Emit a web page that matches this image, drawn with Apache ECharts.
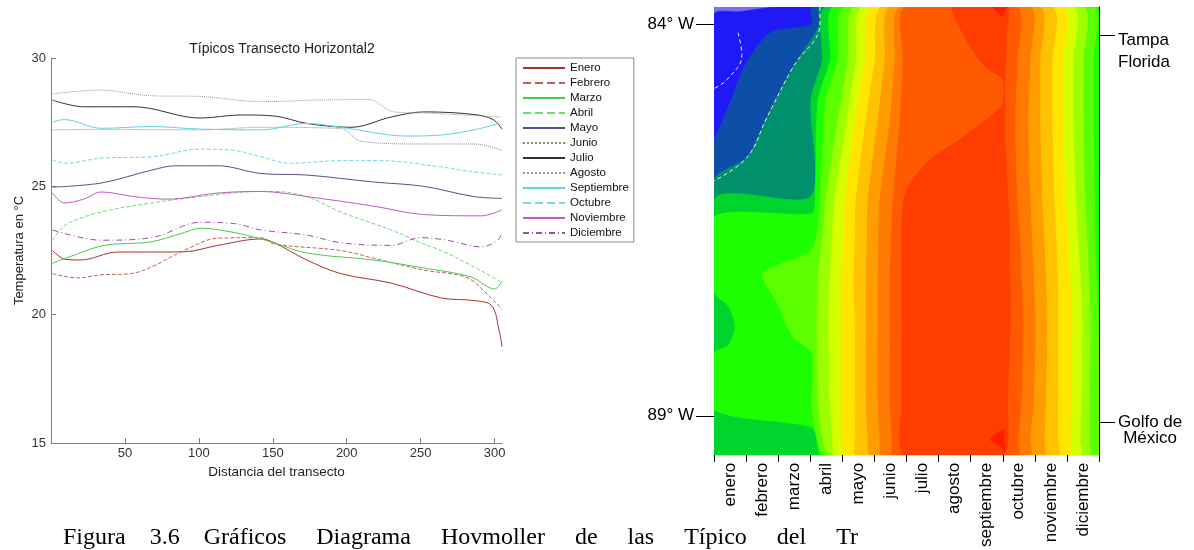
<!DOCTYPE html>
<html>
<head>
<meta charset="utf-8">
<script src="https://cdn.jsdelivr.net/npm/echarts@6/dist/echarts.min.js"></script>
<style>
html,body{margin:0;padding:0;background:#fff;}
#chart{width:1194px;height:550px;}
</style>
</head>
<body>
<div id="chart"></div>
<script>
// ---------- Left chart data (distance, temperature °C) ----------
const seriesNames = ['Enero','Febrero','Marzo','Abril','Mayo','Junio','Julio','Agosto','Septiembre','Octubre','Noviembre','Diciembre'];
const distTicks = [50,100,150,200,250,300];
const tempTicks = [15,20,25,30];

const enero = [[1,22.5],[10,22.15],[20,22.13],[45,22.44],[68,22.44],[90,22.45],[113,22.7],[142,22.95],[151,22.8],[173,22.13],[196,21.6],[230,21.23],[264,20.65],[286,20.55],[298,20.35],[303,19.4],[305,18.75]];
const febrero = [[1,21.6],[18,21.43],[34,21.55],[54,21.6],[68,21.86],[90,22.5],[113,22.98],[142,23.0],[151,22.75],[196,22.5],[218,22.2],[252,21.74],[281,21.45],[295,20.8],[305,20.2]];
const marzo = [[1,22.0],[10,22.2],[36,22.7],[67,22.83],[90,23.2],[101,23.37],[124,23.2],[142,22.95],[151,22.8],[173,22.4],[218,22.13],[254,21.8],[284,21.47],[300,21.0],[305,21.3]];
const abril = [[1,22.9],[10,23.5],[34,24.0],[68,24.35],[101,24.6],[142,24.8],[151,24.8],[173,24.6],[196,24.0],[230,23.3],[252,22.75],[264,22.5],[286,21.86],[302,21.35],[305,21.2]];
const mayo = [[1,24.97],[34,25.13],[68,25.63],[84,25.8],[113,25.8],[142,25.5],[173,25.44],[218,25.17],[252,25.0],[286,24.6],[305,24.53]];
const junio = [[1,27.2],[34,27.22],[101,27.2],[142,27.3],[196,27.25],[210,26.75],[250,26.65],[286,26.65],[305,26.4]];
const julio = [[1,28.36],[22,28.1],[56,28.1],[101,27.66],[128,27.78],[151,27.74],[173,27.45],[203,27.3],[230,27.7],[252,27.9],[286,27.8],[299,27.6],[305,27.23]];
const agosto = [[1,28.6],[32,28.75],[68,28.53],[101,28.5],[142,28.3],[180,28.36],[215,28.38],[232,27.9],[255,27.85],[304,27.7]];
const septiembre = [[1,27.5],[9,27.6],[34,27.26],[68,27.33],[101,27.23],[142,27.2],[173,27.45],[196,27.3],[241,26.96],[264,27.0],[286,27.2],[303,27.45]];
const octubre = [[1,26.03],[10,25.9],[34,26.1],[68,26.15],[101,26.45],[124,26.4],[142,26.15],[162,25.9],[196,26.0],[223,26.0],[263,25.76],[286,25.56],[305,25.44]];
const noviembre = [[1,24.74],[9,24.35],[22,24.5],[34,24.78],[56,24.6],[79,24.5],[113,24.74],[142,24.8],[173,24.6],[218,24.23],[252,23.9],[291,23.85],[305,24.08]];
const diciembre = [[1,23.3],[34,22.9],[68,23.0],[101,23.6],[124,23.55],[142,23.3],[173,23.1],[196,22.8],[230,22.7],[250,23.0],[268,22.9],[291,22.64],[302,22.9],[305,23.2]];

// ---------- Right chart (Hovmoller) data ----------
const months = ['enero','febrero','marzo','abril','mayo','junio','julio','agosto','septiembre','octubre','noviembre','diciembre'];
const lonTicksLeft = [84, 89];
const lonTicksRight = [84.14, 89.08];
// contour regions "T >= level": rows of [longitude, month position left edge, month position right edge]
const band0 = [[83.78,0,12],[89.5,0,12]];
const band1 = [[83.78,2.0,12],[83.84,0.8,12],[83.88,0,12],[89.5,0,12]];
const band2 = [[83.78,3.05,12],[84.0,3.05,12],[84.11,1.75,12],[84.5,1.0,12],[85.0,0.5,12],[85.3,0.2,12],[85.5,0,12],[89.5,0,12]];
const band3 = [[83.78,3.3,12],[84.0,3.3,12],[84.55,2.46,12],[85.19,1.65,12],[85.7,1.03,12],[86.0,0,12],[89.5,0,12]];
const band4 = [[83.78,3.49,12],[84.46,3.37,12],[84.97,3.02,12],[86.2,3.02,12],[86.24,0,12],[89.5,0,12]];
const band5 = [[83.78,3.74,12],[84.46,3.62,12],[84.97,3.24,12],[86.24,3.15,12],[86.42,3.05,12],[86.46,0,12],[87.42,0,12],[87.6,0.45,12],[87.85,0.66,12],[88.1,0.45,12],[88.2,0,12],[88.92,0,12],[89.15,3.05,12],[89.43,3.25,12],[89.5,3.3,12]];
const band6 = [[83.78,4.08,11.81],[84.46,3.87,11.81],[84.97,3.49,11.81],[86.24,3.3,11.86],[86.88,3.05,11.88],[87.18,1.53,11.92],[87.56,1.97,11.95],[87.99,2.46,12],[88.2,3.05,12],[88.92,3.05,12],[89.43,3.3,12],[89.5,3.45,12]];
const band7 = [[83.78,4.40,11.50],[84.46,4.18,11.50],[85.22,3.87,11.50],[86.24,3.49,11.56],[86.76,3.38,11.63],[87.27,3.24,11.68],[87.78,3.21,11.72],[88.80,3.24,11.70],[89.31,3.4,11.69],[89.5,3.6,11.69]];
const band8 = [[83.78,4.64,11.19],[84.46,4.43,11.19],[85.22,4.15,11.19],[86.24,3.77,11.28],[86.76,3.68,11.35],[87.27,3.62,11.42],[87.78,3.58,11.47],[88.80,3.62,11.44],[89.31,3.7,11.41],[89.5,3.8,11.41]];
const band9 = [[83.78,4.93,10.88],[84.46,4.71,10.88],[85.22,4.40,10.88],[86.24,4.08,10.96],[86.76,4.02,11.04],[87.27,3.99,11.10],[87.78,3.99,11.16],[88.80,3.99,11.12],[89.31,4.0,11.10],[89.5,4.05,11.10]];
const band10 = [[83.78,5.24,10.54],[84.46,5.02,10.54],[85.22,4.74,10.54],[86.24,4.43,10.60],[86.76,4.40,10.66],[87.27,4.36,10.70],[87.78,4.40,10.72],[88.80,4.40,10.72],[89.31,4.40,10.72],[89.5,4.42,10.72]];
const band11 = [[83.78,5.49,10.16],[84.46,5.33,10.16],[85.22,5.11,10.16],[86.24,4.80,10.22],[86.76,4.77,10.29],[87.27,4.74,10.34],[87.78,4.74,10.38],[88.80,4.74,10.34],[89.31,4.80,10.29],[89.5,4.86,10.29]];
const band12 = [[83.78,5.80,9.85],[84.46,5.64,9.85],[85.22,5.49,9.79],[86.24,5.17,9.85],[86.76,5.13,9.91],[87.27,5.11,9.96],[87.78,5.11,10.01],[88.80,5.11,9.96],[89.31,5.17,9.85],[89.5,5.24,9.85]];
const band13 = [[83.78,5.95,9.45],[84.46,5.89,9.45],[85.22,5.80,9.38],[86.24,5.58,9.45],[86.76,5.52,9.54],[87.27,5.49,9.58],[87.78,5.49,9.63],[88.80,5.49,9.58],[89.31,5.55,9.48],[89.5,5.58,9.48]];
const band14 = [[83.78,7.45,9.13],[84.12,7.75,9.12],[84.42,8.2,9.10],[84.59,8.6,9.08],[84.69,8.98,9.07],[84.85,9.04,9.06],[85.05,8.95,9.07],[85.47,7.67,9.07],[85.73,6.73,9.1],[86.12,6.0,9.15],[86.5,5.86,9.2],[87.78,5.86,9.23],[88.8,5.86,9.15],[89.5,5.92,9.01]];
const band15a = [[83.78,8.7,9.1],[83.85,8.85,9.05],[83.9,8.95,8.97]];
const band15b = [[89.17,9.02,9.04],[89.3,8.6,9.05],[89.4,8.97,9.07],[89.45,9.05,9.07]];
// dashed white contour lines: [month position, longitude]
const dashContour1 = [[3.3,83.78],[3.3,84.0],[2.46,84.55],[1.65,85.19],[1.03,85.7],[0,86.0]];
const dashContour2 = [[0.75,84.11],[0.87,84.4],[0.4,84.71],[0,84.82]];

const regionList = [[0,band0],[1,band1],[2,band2],[3,band3],[4,band4],[5,band5],[6,band6],[7,band7],[8,band8],[9,band9],[10,band10],[11,band11],[12,band12],[13,band13],[14,band14],[15,band15a],[15,band15b]];

const captionText = 'Figura    3.6    Gráficos     Diagrama     Hovmoller     de     las     Típico     del     Tr';

// ---------- styles ----------
const levelColors = ['#7b6cf5','#1f1af5','#0d4fa8','#00906b','#00d52d','#1dff00','#5dff00','#9cff00','#d6ff00','#ffe500','#ffc200','#ff9d00','#ff7a00','#ff5a00','#ff3d00','#ff1f00'];
const lineColors = ['#a8322e','#c4605c','#4ccb4c','#6fdc6f','#5e4c88','#8a8a8a','#333333','#9a9a9a','#5fd2e2','#74d8ea','#c458c8','#a24ea2'];
const lineTypes = ['solid','dashed','solid','dashed','solid','dotted','solid','dotted','solid','dashed','solid',[6,3,1,3]];
const seriesData = [enero,febrero,marzo,abril,mayo,junio,julio,agosto,septiembre,octubre,noviembre,diciembre];

const FONT = 'Liberation Sans, Arial, sans-serif';

function renderRegion(params, api) {
  const reg = regionList[api.value(0)];
  const rows = reg[1];
  const pts = [];
  rows.forEach(r => pts.push(api.coord([r[1], r[0]])));
  for (let i = rows.length - 1; i >= 0; i--) pts.push(api.coord([rows[i][2], rows[i][0]]));
  const c = levelColors[reg[0]];
  return {type: 'polygon', shape: {points: pts, smooth: 0.25}, style: {fill: c, stroke: c, lineWidth: 0.6}};
}

const chart = echarts.init(document.getElementById('chart'), null, {renderer: 'canvas'});

const lineSeries = seriesNames.map((n, i) => ({
  name: n, type: 'line', xAxisIndex: 0, yAxisIndex: 0,
  data: seriesData[i], symbol: 'none', smooth: 0.35,
  lineStyle: {color: lineColors[i], width: 1, type: lineTypes[i]},
  itemStyle: {color: lineColors[i]},
  z: 3
}));

const option = {
  animation: false,
  backgroundColor: '#fff',
  title: {
    text: 'Típicos Transecto Horizontal2', left: 277, top: 37, textAlign: 'center',
    textStyle: {fontFamily: FONT, fontSize: 14, fontWeight: 'normal', color: '#222'}
  },
  legend: {
    orient: 'vertical', left: 516, top: 58, itemWidth: 42, itemHeight: 2, itemGap: 3,
    padding: [4, 5, 3, 6], borderColor: '#8a8a8a', borderWidth: 1, backgroundColor: '#fff',
    itemStyle: {opacity: 0},
    textStyle: {fontFamily: FONT, fontSize: 11.5, lineHeight: 12, color: '#111'},
    data: seriesNames
  },
  grid: [
    {left: 51, top: 58, width: 451, height: 385, containLabel: false},
    {left: 714, top: 7, width: 385, height: 448, containLabel: false}
  ],
  xAxis: [
    {
      type: 'value', gridIndex: 0, min: 0, max: 305, interval: 50,
      name: 'Distancia del transecto', nameLocation: 'middle', nameGap: 16,
      nameTextStyle: {fontFamily: FONT, fontSize: 13.5, color: '#222'},
      axisLine: {show: true, lineStyle: {color: '#808080'}},
      axisTick: {show: true, inside: true, length: 5, customValues: distTicks, lineStyle: {color: '#808080'}},
      axisLabel: {customValues: distTicks, fontFamily: FONT, fontSize: 13, color: '#333', margin: 4},
      splitLine: {show: false}
    },
    {
      type: 'category', gridIndex: 1, data: months, position: 'bottom', boundaryGap: true,
      axisLine: {show: true, lineStyle: {color: '#e2e2e2'}},
      axisTick: {show: true, interval: 0, length: 7, lineStyle: {color: '#000'}},
      axisLabel: {interval: 0, rotate: 90, fontFamily: FONT, fontSize: 17, color: '#000', margin: 8},
      splitLine: {show: false}
    },
    {type: 'value', gridIndex: 1, min: 0, max: 12, show: false}
  ],
  yAxis: [
    {
      type: 'value', gridIndex: 0, min: 15, max: 30, interval: 5,
      name: 'Temperatura en °C', nameLocation: 'middle', nameGap: 25, nameRotate: 90,
      nameTextStyle: {fontFamily: FONT, fontSize: 13, color: '#222'},
      axisLine: {show: true, lineStyle: {color: '#808080'}},
      axisTick: {show: true, inside: true, length: 5, lineStyle: {color: '#808080'}},
      axisLabel: {fontFamily: FONT, fontSize: 13, color: '#333', margin: 5},
      splitLine: {show: false}
    },
    {
      type: 'value', gridIndex: 1, min: 83.78, max: 89.5, inverse: true, position: 'left',
      axisLine: {show: true, lineStyle: {color: '#555'}},
      axisTick: {show: true, length: 18, customValues: lonTicksLeft, lineStyle: {color: '#000'}},
      axisLabel: {customValues: lonTicksLeft, margin: 20, fontFamily: FONT, fontSize: 17, color: '#000',
        formatter: v => Math.round(v) + '° W'},
      splitLine: {show: false}
    },
    {
      type: 'value', gridIndex: 1, min: 83.78, max: 89.5, inverse: true, position: 'right',
      axisLine: {show: true, lineStyle: {color: '#000'}},
      axisTick: {show: true, length: 16, customValues: lonTicksRight, lineStyle: {color: '#000'}},
      axisLabel: {
        customValues: lonTicksRight, margin: 19, fontFamily: FONT, fontSize: 17, color: '#000',
        formatter: v => v < 86 ? '{t0| }\n{t|Tampa}\n{t|Florida}' : '{g0| }\n{g|Golfo de}\n{g|México}',
        rich: {
          t0: {lineHeight: 32, fontSize: 17},
          t: {lineHeight: 22, fontSize: 17, fontFamily: FONT, color: '#000'},
          g0: {lineHeight: 16, fontSize: 17},
          g: {lineHeight: 16, fontSize: 17, fontFamily: FONT, color: '#000', align: 'center'}
        }
      },
      splitLine: {show: false}
    }
  ],
  graphic: [
    {
      type: 'text', left: 63, top: 526, z: 10,
      style: {text: captionText, font: '24px "Liberation Serif", "Times New Roman", serif', fill: '#000'}
    }
  ],
  series: [
    ...lineSeries,
    {
      type: 'custom', xAxisIndex: 2, yAxisIndex: 1, clip: true,
      data: regionList.map((r, i) => [i]),
      renderItem: renderRegion, silent: true, z: 1
    },
    {
      type: 'line', xAxisIndex: 2, yAxisIndex: 1, data: dashContour1, symbol: 'none', smooth: 0.4,
      lineStyle: {color: '#ffffff', width: 1, type: [4, 3], opacity: 0.9}, z: 2, silent: true
    },
    {
      type: 'line', xAxisIndex: 2, yAxisIndex: 1, data: dashContour2, symbol: 'none', smooth: 0.4,
      lineStyle: {color: '#ffffff', width: 1, type: [4, 3], opacity: 0.9}, z: 2, silent: true
    }
  ]
};
chart.setOption(option);
</script>
</body>
</html>
